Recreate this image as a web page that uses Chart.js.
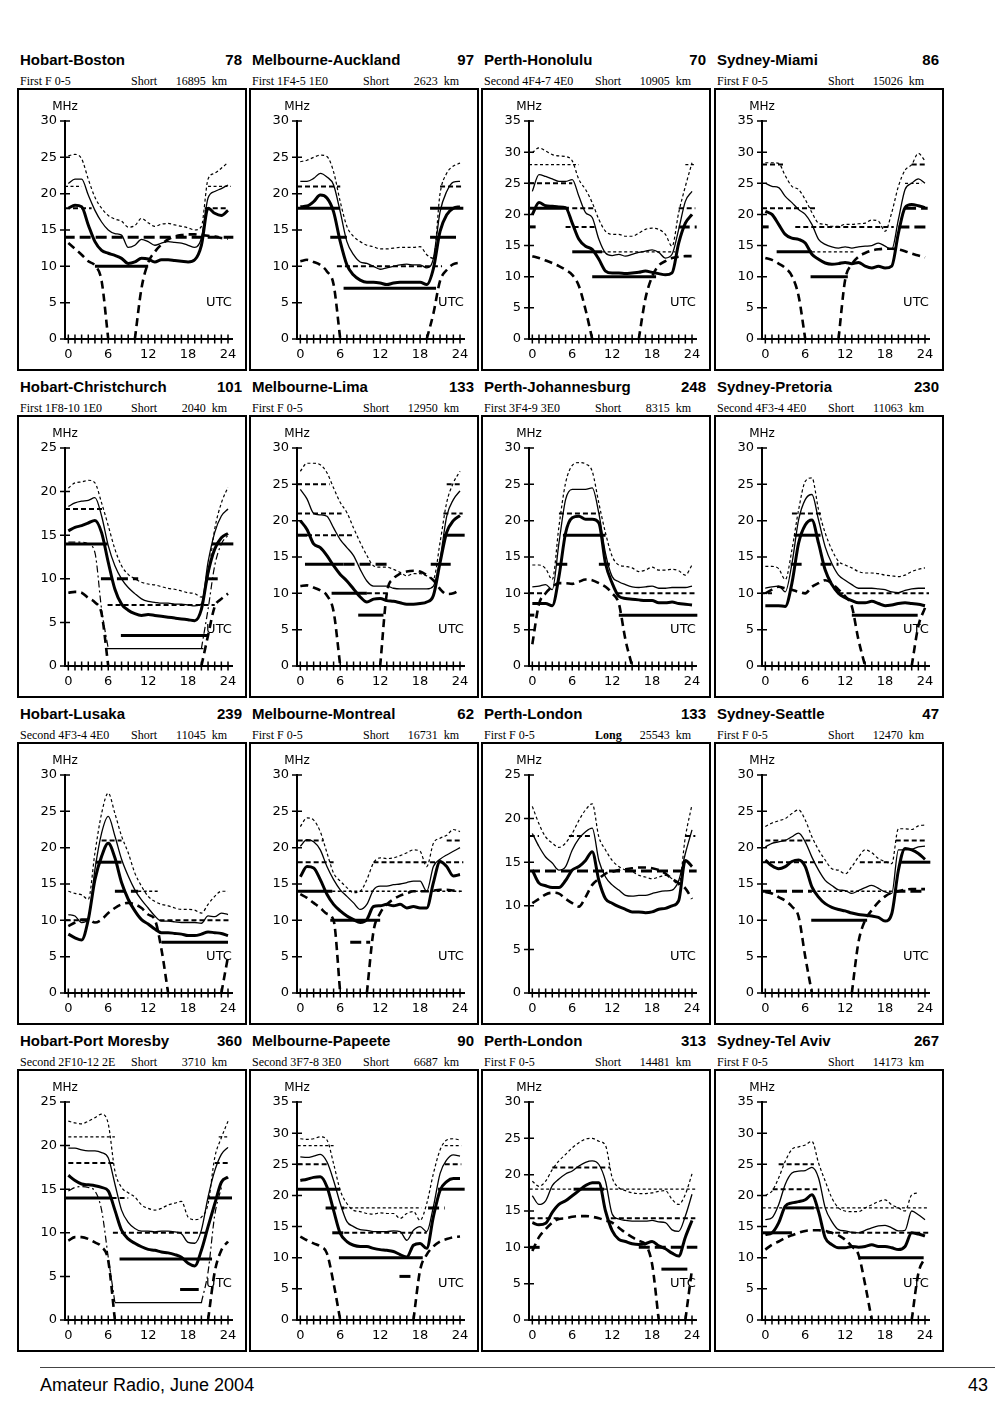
<!DOCTYPE html>
<html>
<head>
<meta charset="utf-8">
<script src="https://cdn.jsdelivr.net/npm/chart.js@4.4.0/dist/chart.umd.min.js"></script>
<style>
  body { margin: 0; background: #fff; }
  #page { position: relative; width: 1000px; height: 1401px; overflow: hidden;
          font-family: "Liberation Sans", Arial, sans-serif; color: #000; }
  .ttl { position: absolute; height: 20px; line-height: 20px; font-weight: bold; font-size: 15px; white-space: nowrap; }
  .ttl .num { position: absolute; right: 0; top: 0; }
  .sub { position: absolute; height: 16px; line-height: 16px; font-size: 12px; white-space: nowrap;
         font-family: "Liberation Serif", "Times New Roman", serif; }
  .sub span { position: absolute; top: 0; }
  .box { position: absolute; border: 2px solid #000; width: 226px; height: 279px; }
  .box canvas { display: block; }
  #rule { position: absolute; left: 40px; top: 1367px; width: 955px; border-top: 1.5px solid #444; }
  #foot { position: absolute; left: 40px; top: 1374px; font-size: 18px; line-height: 22px; }
  #pgno { position: absolute; right: 12px; top: 1374px; font-size: 18px; line-height: 22px; }
</style>
</head>
<body>
<div id="page">
  <div id="rule"></div>
  <div id="foot">Amateur Radio, June 2004</div>
  <div id="pgno">43</div>
</div>
<script>
// --- panel headings -------------------------------------------------------
const routes = ['Hobart-Boston', 'Melbourne-Auckland', 'Perth-Honolulu', 'Sydney-Miami',
                'Hobart-Christchurch', 'Melbourne-Lima', 'Perth-Johannesburg', 'Sydney-Pretoria',
                'Hobart-Lusaka', 'Melbourne-Montreal', 'Perth-London', 'Sydney-Seattle',
                'Hobart-Port Moresby', 'Melbourne-Papeete', 'Perth-London', 'Sydney-Tel Aviv'];
const bearings = [78, 97, 70, 86, 101, 133, 248, 230, 239, 62, 133, 47, 360, 90, 313, 267];
const modes = ['First F 0-5', 'First 1F4-5 1E0', 'Second 4F4-7 4E0', 'First F 0-5',
               'First 1F8-10 1E0', 'First F 0-5', 'First 3F4-9 3E0', 'Second 4F3-4 4E0',
               'Second 4F3-4 4E0', 'First F 0-5', 'First F 0-5', 'First F 0-5',
               'Second 2F10-12 2E', 'Second 3F7-8 3E0', 'First F 0-5', 'First F 0-5'];
const paths = ['Short', 'Short', 'Short', 'Short', 'Short', 'Short', 'Short', 'Short',
               'Short', 'Short', 'Long', 'Short', 'Short', 'Short', 'Short', 'Short'];
const distances = [16895, 2623, 10905, 15026, 2040, 12950, 8315, 11063,
                   11045, 16731, 25543, 12470, 3710, 6687, 14481, 14173];
const yTops = [30, 30, 35, 35, 25, 30, 30, 30, 30, 30, 25, 30, 25, 35, 30, 35];

// --- hourly values, UTC 0..24 (MHz) ----------------------------------------
const hours = [0,1,2,3,4,5,6,7,8,9,10,11,12,13,14,15,16,17,18,19,20,21,22,23,24];

// upper decile MUF (thin dotted)
const upperDecile = [
  [25.2,25.4,24.8,22,19.5,18,17,16.5,16.2,15.4,15.6,16.6,16,15.5,15.8,15.9,15.7,15.5,15.3,15,15.5,22,22.8,23.5,24.3],
  [24.4,24.6,25,25.3,25.1,23,18.9,15.5,14.1,13.4,12.9,12.7,12.4,12.4,12.5,12.6,12.6,12.6,12.7,11.6,11.1,20,22.8,23.8,24.2],
  [29.9,30.7,30.2,29.6,29.4,29.3,28.6,25.6,24,21.9,19.2,17.3,16.8,16.8,16.5,16.5,17,17.6,17.8,17.6,16.8,14.9,20.3,24.5,28.3],
  [28.3,28.3,28.2,26.2,24.5,24,22.4,20.3,18.6,18.4,18.1,18.1,18.4,18.4,18.5,18.6,19.1,18.9,17.3,20.3,24.5,27.1,28,29.8,28.6],
  [20.4,21,21.1,21.3,21,18.7,16.1,13.4,11.5,10.5,10,9.6,9.4,9.3,9.1,8.9,8.8,8.6,8.4,8.3,7.9,10.4,15.7,18.7,20.5],
  [26.8,27.9,27.9,27.7,26.6,24.5,22.5,21.1,19,17,15.2,13.8,13.6,13.6,13.3,12.9,12.4,12.7,12.7,12.4,12,17,22.5,25.2,26.8],
  [13.9,13.9,13.4,11.9,19.2,25.2,27.6,28,27.8,26.8,22.4,18.3,15.1,13.9,13.7,13.5,13,13.2,13.6,13.2,13.2,13.3,13.1,12.5,13.9],
  [13.7,13.7,13.4,11.9,16,21.5,25.4,25.9,21.5,18.3,16,14.4,13.9,13.5,13,12.8,12.8,12.7,12.5,12.4,12.3,12.5,13,13.3,13.5],
  [14,13.7,13.5,12.9,19.3,24.7,27.5,24.7,21.6,19.3,16.5,14.7,13.3,12.6,12.2,12,11.7,11.5,11.5,11.4,11,12.2,13.3,14,14],
  [22.9,24.1,23.8,22.2,19.3,16.5,15.4,14.5,13.8,14,15.6,17.9,18.6,18.5,18.6,18.9,19.3,19.7,19.5,17.4,20.6,21.3,21.7,22.5,22.2],
  [21.4,19.4,17.9,17.2,16.7,17.2,18.3,19.8,21,21.7,17.9,16.4,15.2,14.5,14.1,13.9,13.5,13.3,13.1,13.3,13.5,13.1,12.4,17.9,21.6],
  [22.9,23.4,23.7,24,24.7,25.2,23.8,21.5,19.7,18.3,17.1,16.9,16.4,17.4,18.7,19.7,19.3,18.5,18.1,17.8,22.6,22.6,22.5,23,23.1],
  [22.8,22.6,22.5,22.8,23.2,23.6,22.5,17.1,15.2,14.6,14.1,13.2,12.8,12.6,12.8,13.2,13.4,13.6,11.8,11.5,11.8,13.3,18.6,20.9,22.8],
  [29.1,29,29.1,29.4,28.9,25.1,20.8,18.7,17.6,17.4,17.1,17,17.2,17.1,17.1,16.3,17.1,17.4,16,18.7,23.5,27.3,28.9,29.1,28.9],
  [19.1,18.4,19.1,20.7,21.9,22.8,23.7,24.4,24.9,25,24.6,24,19.6,18.2,17.8,17.5,17.4,17.4,17.5,17.7,17.8,16.6,15.9,17.3,20.1],
  [20,20.7,22.8,25.5,27.4,27.8,28.1,28.7,25.2,22.3,19.6,18,17.5,17.4,17.4,18,18.5,19,19.3,18.5,18,17.5,20.1,20.4,null]
];

// median MUF (thin solid)
const medianMuf = [
  [21.4,22,22,19.8,17.7,16.1,15,14.5,14.3,12.6,12.9,13.7,13.4,12.9,13.2,13.4,13.3,13.2,12.9,12.6,13.9,19.4,20.3,20.7,21.2],
  [21.7,21.7,22.1,22.8,22.3,21.2,17.5,13.4,11.6,10.6,10.4,10,9.6,9.8,10,10.2,10.3,10.2,10.2,9.8,11.1,17.5,20.3,21.6,21.7],
  [23.7,26.4,26.1,25.7,25.3,25.3,25.6,22.9,20.3,19.5,16,13.8,13.4,13.6,13.3,13.6,13.9,14.1,14.3,13.9,13,13.6,17.6,22.1,23.7],
  [25,24.5,24.3,22.9,21.9,20.8,20,18.4,16,15.2,14.8,14.6,14.8,14.6,14.8,14.9,15,15.4,14.9,14.4,19.2,24,25,25.7,25],
  [18.3,18.7,18.9,19,19.3,17.2,13.8,11.5,10,9,8.3,7.7,7.4,7.3,7.2,7.2,7.1,7.1,7,6.9,7.1,11.9,15.3,17.2,18],
  [24.3,23,21,20.8,20.6,19,17.4,16.3,15.2,13.3,11.7,11,11,11,10.7,10.6,10.6,10.6,10.6,10.6,11,14.7,20.6,22.9,24.1],
  [10.9,11,11.2,10.5,16.9,22.9,24.3,24.3,24.3,24.5,21,15.5,12.3,11.6,11.2,10.9,10.8,10.9,11,10.7,10.7,10.8,10.8,10.8,11],
  [10.7,10.9,11,10.2,14.1,20.1,22.9,23.6,20.1,16.4,14.1,12.5,11.8,11.2,10.7,10.7,10.7,10.6,10.5,10.2,10.1,10.4,10.6,10.7,10.7],
  [10.8,10.6,9.7,10.1,17,22,24.3,21.6,18.4,16.1,14.2,12.8,11.7,10.6,9.9,9.9,9.8,9.7,9.7,9.7,9.6,10.6,10.5,11,10.8],
  [20.2,21.1,20.8,19.7,17.4,15.6,14.2,13.3,12.4,11.5,12.2,14.2,14.7,14.7,14.9,15,15.2,15.4,15.4,14,17.4,18.4,19,19.5,20],
  [18.3,16.8,15.6,14.9,14.1,14.5,16.4,17.7,18.5,18.9,15.2,13.3,12.4,11.8,11.2,11.1,11.2,11.2,11.4,11.6,11.7,11.8,12.9,16,18.7],
  [20.1,20.6,20.8,21,21.5,22,20.8,18.7,16.9,15.5,14.8,14.2,14.1,13.7,14.1,14.5,14.8,14.4,13.9,13.7,19.7,19.7,19.8,20.1,20.2],
  [19.7,19.7,19.5,19.4,19.4,19.2,18.6,15.6,12.6,11.2,10.5,10.2,10.2,10.1,10.2,10.2,10.1,9.9,8.9,8.8,10.3,14.1,17.1,19,19.8],
  [26.2,26.1,26.3,26.6,25.4,22.4,18.7,15.8,15,14.5,14.4,14.2,14.2,14.2,14.3,14.2,12.8,14.4,15,14.2,18.2,23.5,25.7,26.5,26.3],
  [17.1,15.9,16.4,18.5,19.4,20.1,20.5,21.2,21.7,21.9,21.4,19.1,14.6,13.9,13.7,13.6,13.6,13.6,13.7,13.5,13.4,12.4,12.2,14.3,17.3],
  [16.1,16.4,18.5,21.8,23.6,23.9,24,24.5,22.8,18,15.8,14.5,14.3,14.1,14,14.4,14.8,15.1,15.2,14.8,14.3,14.4,17.5,16.9,16.1]
];

// lower decile MUF (thick solid)
const lowerDecile = [
  [18,18.4,18.2,15.7,13.4,12.2,11.8,11.5,11.1,10.4,10.6,11.1,11,10.6,10.9,10.9,10.8,10.7,10.6,10.9,12.9,18,17.3,17,17.7],
  [18.2,18.3,18.9,19.8,19.4,17.5,13.4,10.2,8.8,8.1,7.8,7.8,7.7,7.5,7.7,7.8,7.8,7.8,7.8,7.5,9.7,14.8,17.1,18,18.2],
  [20,21.9,21.4,21.3,21.2,21.1,18.6,16,14.9,14.4,12.8,10.9,10.6,10.6,10.5,10.6,10.7,10.9,10.7,10.5,10.3,10.6,15.4,18.6,20],
  [20.5,20,18.4,16.8,16.2,16,15.4,13.6,12.8,12.2,12,12.1,12.3,12.1,12.3,11.7,11.4,11.7,11.4,11.7,17,21.1,21.6,21.4,21.1],
  [15.5,15.9,16.1,16.4,16.7,15.3,11.9,8.8,7.1,6.4,6,5.8,5.9,5.8,5.7,5.6,5.5,5.4,5.3,5.2,6.5,10.7,13.4,14.7,15.2],
  [20,18.8,16.8,16.3,15.2,13.8,12.6,11.7,10.6,9.5,8.8,9.2,9.3,9,8.9,8.7,8.5,8.5,8.6,8.8,9.7,14.2,18.4,20,20.7],
  [8.6,8.6,8.6,8.3,12.3,18.3,20.4,20.6,20.2,20.2,19.7,14.1,11.4,9.6,9.3,9.2,9.1,9,9,8.7,8.7,8.8,8.6,8.5,8.4],
  [8.3,8.3,8.3,8.2,11.4,16.9,19.4,20.1,16.9,13.2,11.2,10,9.4,9,8.7,8.7,8.9,8.6,8.3,8.4,8.6,8.7,8.6,8.5,8.3],
  [8.1,7.6,7.3,10.1,15.6,18.8,20.6,18.6,15.2,12.9,11.3,10.1,9.5,8.8,8.3,8.3,8.2,8.1,7.9,7.9,8.1,8.4,8.3,8.2,7.9],
  [16,17.4,17.2,15.6,13.6,12.2,11.3,10.6,10.1,9.7,10.1,11.9,12,12.2,12,12.2,11.7,11.9,11.7,11.7,15.2,18.1,17.4,16.1,16.3],
  [14.1,12.6,12.3,12.1,12.1,12.9,14.1,14.5,15.2,16.2,12.9,10.8,10.3,9.9,9.6,9.3,9.3,9.2,9.3,9.6,9.7,10,10.6,15.2,14.5],
  [18.3,17.5,17.1,17.4,18.1,18.3,17.4,14.6,13.2,12.3,11.8,11.5,11.3,11,10.8,10.7,10.6,10.4,9.9,10.9,16.9,19.9,19.7,19.2,18.4],
  [16.6,16,15.6,15.5,15.4,15.2,14.8,12.6,10.3,9.3,8.8,8.4,8.1,8,7.8,7.7,7.5,7.2,6.5,6.2,8,10.7,13.3,15.8,16.4],
  [22.4,22.6,22.9,23,21.4,17.6,13.9,12.6,12,11.8,11.8,11.5,11.3,11.2,11,10.5,10.1,12,12.3,11.5,16.6,20.8,22.2,22.7,22.7],
  [13.4,13.1,13.3,14.8,15.9,16.4,17.1,17.8,18.5,18.9,18.9,15,12.3,11.1,10.8,10.5,10.4,10.5,10.8,10.2,9.8,9.2,8.8,11.4,13.7],
  [13.7,14,15.6,18.3,18.8,19,19.3,20.1,17.4,13.2,12.1,11.6,11.6,11.8,11.7,11.8,12.1,11.8,11.8,11.6,11.3,11.8,14,13.8,13.5]
];

// lowest usable frequency (thick dashed); null where it is below 0
const lufCurve = [
  [13.2,12.4,11.6,10.7,10.1,8,0,null,null,null,0,7,10.5,12,13,13.7,14.1,14.3,14.4,14.4,14.3,14.2,14.1,13.9,13.8],
  [10.7,10.9,10.6,10.2,9.3,7.5,0,null,null,null,null,null,null,null,null,null,null,null,null,0,3.5,8,9.5,10.3,10.5],
  [13.3,13,12.6,12.2,11.7,11.1,10.3,8.5,4.7,0,null,null,null,null,null,null,0,6.5,10,11.8,12.5,13,13.2,13.3,13.3],
  [13,12.7,12.1,11.4,10.1,6.9,0,null,null,null,null,0,9.5,12,13.2,13.8,14.2,14.4,14.5,14.5,14.4,14.1,13.7,13.4,13.1],
  [8.4,8.5,8.4,7.8,7.3,6,0,null,null,null,null,null,null,null,null,null,null,null,null,null,0,3.5,6.8,7.7,8.3],
  [11,11.1,10.8,10.4,9.7,7.5,0,null,null,null,null,null,0,10,12,12.7,13,13.1,13,12.5,11.8,10.6,9.9,10,10.5],
  [3,8.5,10,10.9,11.4,11.4,11.3,11.6,11.9,11.8,11.4,10.9,10,8.6,3.6,0,null,null,null,null,null,null,null,null,null],
  [10,10.5,10.9,10.7,10.5,10.2,10,10.9,11.4,11.8,11.4,10.5,9.6,8.2,3.6,0,null,null,null,null,null,null,0,5.5,8],
  [9.2,9.7,10.1,10.1,9.7,10.1,11,11.7,12.2,12.4,12.2,11.7,10.8,10.1,6,0,null,null,null,null,null,null,null,0,5],
  [13.6,13.1,12.4,11.7,10.9,10,0,null,null,null,0,8.5,11,12.2,12.9,13.4,13.7,14,14,14,14.1,14.2,14.2,14.1,14],
  [10.3,10.8,11.3,11.5,11.4,10.8,10.3,9.9,11,12.4,13.1,13.7,13.9,14.1,14.2,14.3,14.4,14.4,14.3,14.1,13.7,13.1,12.6,12,10.8],
  [13.9,13.7,13.2,12.7,11.9,10.5,5,0,null,null,null,null,null,0,7,10,11.4,12.5,13.3,13.8,14,14.2,14.3,14.3,14.3],
  [9.1,9.5,9.5,9.3,8.9,8.4,6.8,0,null,null,null,null,null,null,null,null,null,null,null,null,null,0,5.5,8,9],
  [13.4,12.8,12.3,11.8,10.7,5.9,0,null,null,null,null,null,null,null,null,null,null,0,8,10.5,11.8,12.6,13,13.3,13.4],
  [9.5,11.4,12.5,13.4,13.9,14,14.2,14.3,14.3,14.2,14,13.7,13.4,12.7,12,11.4,10.9,10.4,7.7,0,null,null,null,0,7],
  [11.3,12.1,12.6,13.2,13.6,14,14.3,14.4,14.4,14.3,14,13.6,12.9,11.8,10.5,5.7,0,null,null,null,null,null,0,7.5,10]
];

// second-mode LUF (thin dash-dot), only on the two short Hobart paths
const lufAlt = {
  4:  [14.2,14.2,14.2,14,13,6.5,2,null,null,null,null,null,null,null,null,null,null,null,null,null,2,6.5,11.5,14,15],
  12: [14.8,15.2,15.3,15.2,14.8,12.6,7.2,2,null,null,null,null,null,null,null,null,null,null,null,null,2,5.5,12,15.2,null]
};

// amateur band openings: [MHz, from UTC, to UTC, reliability class]
const bandSegments = [
  [[21,-0.5,2,'dot'],[21,21,24.4,'dot'],[18,-0.5,3.5,'dash'],[18,20.5,24,'dash'],[14,-0.7,24.8,'long'],[10,4,12,'solid']],
  [[21,-0.5,6,'dash'],[21,21,24.4,'dash'],[18,-0.5,6,'solid'],[18,19.5,24.5,'solid'],[14,4.5,7,'solid'],[14,19.5,23.4,'solid'],[10,5.5,21.3,'dash'],[7,6.5,20.4,'solid']],
  [[28,-0.5,7,'dot'],[28,23,24.5,'dot'],[25,-0.5,6,'dash'],[21,-0.5,5.5,'solid'],[21,6,9.5,'dash'],[21,22,24.5,'dash'],[18,-0.5,0.5,'long'],[18,5,9.5,'dash'],[18,22,24.7,'long'],[14,6,10.5,'solid'],[14,10.5,21.5,'dot'],[10,9,18.6,'solid']],
  [[28,-0.5,3,'dash'],[28,22,24.4,'dash'],[25,21,23.5,'dot'],[21,-0.5,7.5,'dash'],[21,21,24.4,'long'],[18,-0.6,0.5,'long'],[18,4.5,19.3,'dash'],[18,20,24.8,'long'],[14,1.7,7,'solid'],[14,7,13.5,'dot'],[10,6.8,12.4,'solid']],
  [[18,-0.5,5.2,'dash'],[14,-1,5.9,'solid'],[14,21.6,24.8,'solid'],[10,4.9,10.5,'long'],[10,20.8,22.8,'long'],[7,5.9,22,'dash'],[3.5,7.9,21,'solid'],[2,5.6,20.3,'thin']],
  [[25,-0.5,4.4,'dash'],[25,22,24.2,'dash'],[21,-0.5,6.2,'dash'],[21,21.5,24.4,'dash'],[18,-0.5,1,'long'],[18,1,8,'dash'],[18,21.5,24.7,'solid'],[14,0.7,6.5,'solid'],[14,6.5,13,'long'],[14,19.6,22.6,'solid'],[10,4.7,10,'solid'],[10,10,13.3,'dash'],[7,8.7,12.5,'solid']],
  [[21,4,10.2,'dash'],[18,4.6,11,'solid'],[14,3.6,5.6,'long'],[14,10,12,'long'],[10,-0.5,2,'dash'],[10,12.8,24.5,'dash'],[7,-1,0.3,'long'],[7,13,24.8,'solid']],
  [[21,4,8.7,'dash'],[18,4.3,8.3,'solid'],[14,3.8,6,'long'],[14,8.3,11,'long'],[10,-0.8,1,'dash'],[10,11,24.6,'dash'],[7,13,22.9,'solid']],
  [[21,5,8,'dash'],[18,4.1,8,'solid'],[14,7,10.5,'long'],[14,10.5,13.5,'dot'],[10,-0.4,2.9,'dash'],[10,13.7,24.3,'dash'],[7,14,24,'solid']],
  [[21,-0.4,3.5,'dash'],[21,22,24.4,'dash'],[18,-0.4,5,'dash'],[18,11,19,'dash'],[18,19.5,24.5,'dash'],[14,-1,4.8,'solid'],[14,4.8,24.5,'dot'],[10,4.5,12,'solid'],[7,7.5,10.5,'long']],
  [[18,-0.4,1,'dash'],[18,5.5,8.7,'dash'],[18,23,24.5,'dash'],[14,-0.5,24.7,'long']],
  [[21,0,7,'dash'],[21,19.6,24.2,'dash'],[18,-0.5,8.8,'dash'],[18,14.2,18.8,'dash'],[18,20.4,24.8,'solid'],[14,-0.8,7,'long'],[14,7,19.4,'dot'],[14,19.4,23.7,'long'],[10,6.9,15.3,'solid']],
  [[21,0,7,'dot'],[21,22.6,24.1,'dot'],[18,0,7,'dash'],[18,22,24.1,'dash'],[14,-1,6.5,'solid'],[14,6.5,9,'dash'],[14,21,24.6,'solid'],[10,6.7,21.1,'dash'],[7,7.7,21.6,'solid'],[3.5,16.8,19.6,'solid'],[2,7,20.1,'thin']],
  [[28,-0.4,5,'dot'],[28,21.7,24.2,'dot'],[25,-0.4,4,'dash'],[25,21.7,24.2,'dash'],[21,-0.4,6,'solid'],[21,20.7,24.7,'solid'],[18,3.8,6.6,'long'],[18,6.6,18.2,'dot'],[18,19.2,21.7,'long'],[14,4.8,6.6,'long'],[14,6.6,19,'dash'],[10,5.8,18.4,'solid'],[7,14.9,16.7,'long']],
  [[21,3,11.7,'dash'],[18,-0.4,6.2,'dot'],[18,6.2,10.8,'solid'],[18,10.8,24.5,'dot'],[14,-0.4,4.2,'dash'],[14,11.8,24.5,'dash'],[10,-0.4,1.1,'long'],[10,16,24.8,'long'],[7,19.4,23.3,'solid']],
  [[25,2,7.3,'dash'],[21,1.1,7.8,'dash'],[18,-0.4,3,'dot'],[18,3,7.3,'solid'],[18,7.3,24.5,'dot'],[14,-0.4,4,'solid'],[14,9.3,24.5,'dash'],[10,14,23.8,'solid']]
];

// --- drawing ---------------------------------------------------------------
const colLeft = [17, 249, 481, 714];
const rowTop = [88, 415, 742, 1069];
const axisFont = '"DejaVu Sans", "Liberation Sans", sans-serif';

const curveStyle = {
  upper:  { borderWidth: 1.2, borderDash: [3, 2.5] },
  median: { borderWidth: 1.3 },
  lower:  { borderWidth: 3 },
  luf:    { borderWidth: 2.6, borderDash: [8, 5] },
  alt:    { borderWidth: 1.2, borderDash: [7, 3, 2, 3] }
};
const segStyle = {
  dot:   { borderWidth: 1.3, borderDash: [3, 2.5] },
  dash:  { borderWidth: 2, borderDash: [5, 3] },
  long:  { borderWidth: 3, borderDash: [11, 5] },
  solid: { borderWidth: 3 },
  thin:  { borderWidth: 1.2 }
};

// hour ticks crossing the axes, plus the MHz / UTC captions
const axisMarks = {
  id: 'axisMarks',
  afterDraw(chart) {
    const { ctx, chartArea, scales: { x, y } } = chart;
    const y0 = y.getPixelForValue(0);
    ctx.save();
    ctx.strokeStyle = '#000';
    ctx.lineWidth = 1.5;
    ctx.beginPath();
    hours.forEach(h => {
      const px = x.getPixelForValue(h);
      ctx.moveTo(px, y0 - 4.5);
      ctx.lineTo(px, y0 + 4.5);
    });
    y.ticks.forEach(t => {
      const py = y.getPixelForValue(t.value);
      ctx.moveTo(chartArea.left - 5, py);
      ctx.lineTo(chartArea.left + 5, py);
    });
    ctx.stroke();
    ctx.fillStyle = '#000';
    ctx.textAlign = 'center';
    ctx.textBaseline = 'middle';
    ctx.font = '12px ' + axisFont;
    ctx.fillText('MHz', chartArea.left, chartArea.top - 14);
    ctx.font = '13px ' + axisFont;
    ctx.fillText('UTC', chartArea.left + 154, chartArea.top + 182);
    ctx.restore();
  }
};

function curve(vals, style) {
  return Object.assign({
    data: hours.map((h, i) => ({ x: h, y: vals[i] })),
    borderColor: '#000',
    clip: { left: 0, top: 10, right: 8, bottom: 2 }
  }, curveStyle[style]);
}

function segment(s) {
  return Object.assign({
    data: [{ x: s[1], y: s[0] }, { x: s[2], y: s[0] }],
    borderColor: '#000',
    tension: 0,
    clip: { left: 0, top: 10, right: 8, bottom: 2 }
  }, segStyle[s[3]]);
}

const page = document.getElementById('page');

routes.forEach((name, i) => {
  const L = colLeft[i % 4];
  const T = rowTop[Math.floor(i / 4)];

  const ttl = document.createElement('div');
  ttl.className = 'ttl';
  ttl.style.left = (L + 3) + 'px';
  ttl.style.top = (T - 38) + 'px';
  ttl.style.width = '222px';
  ttl.innerHTML = '<span>' + name + '</span><span class="num">' + bearings[i] + '</span>';
  page.appendChild(ttl);

  const sub = document.createElement('div');
  sub.className = 'sub';
  sub.style.left = (L + 3) + 'px';
  sub.style.top = (T - 15) + 'px';
  sub.style.width = '207px';
  sub.innerHTML = '<span style="left:0">' + modes[i] + '</span>' +
    '<span style="left:111px;' + (paths[i] === 'Long' ? 'font-weight:bold' : '') + '">' + paths[i] + '</span>' +
    '<span style="right:0">' + distances[i] + '&nbsp; km</span>';
  page.appendChild(sub);

  const box = document.createElement('div');
  box.className = 'box';
  box.style.left = L + 'px';
  box.style.top = T + 'px';
  const cv = document.createElement('canvas');
  cv.width = 226;
  cv.height = 279;
  box.appendChild(cv);
  page.appendChild(box);

  const datasets = bandSegments[i].map(segment);
  datasets.push(curve(upperDecile[i], 'upper'));
  datasets.push(curve(medianMuf[i], 'median'));
  datasets.push(curve(lowerDecile[i], 'lower'));
  datasets.push(curve(lufCurve[i], 'luf'));
  if (lufAlt[i]) datasets.push(curve(lufAlt[i], 'alt'));

  new Chart(cv, {
    type: 'line',
    data: { datasets },
    options: {
      responsive: false,
      animation: false,
      layout: { autoPadding: false, padding: { left: 0, top: 31, right: 13, bottom: 0 } },
      plugins: { legend: { display: false }, tooltip: { enabled: false } },
      elements: {
        point: { radius: 0 },
        line: { fill: false, cubicInterpolationMode: 'monotone', borderCapStyle: 'butt' }
      },
      scales: {
        x: {
          type: 'linear', min: -0.5, max: 24.6,
          afterFit(s) { s.height = 30; },
          afterBuildTicks(s) { s.ticks = [0, 6, 12, 18, 24].map(v => ({ value: v })); },
          grid: { display: false, drawTicks: false },
          border: { display: true, color: '#000', width: 2 },
          ticks: { padding: 8, color: '#000', maxRotation: 0, autoSkip: false,
                   font: { family: axisFont, size: 13 }, callback: v => String(v) }
        },
        y: {
          min: 0, max: yTops[i],
          afterFit(s) { s.width = 46; },
          grid: { display: false, drawTicks: false },
          border: { display: true, color: '#000', width: 2 },
          ticks: { stepSize: 5, padding: 8, color: '#000',
                   font: { family: axisFont, size: 13 } }
        }
      }
    },
    plugins: [axisMarks]
  });
});
</script>
</body>
</html>
